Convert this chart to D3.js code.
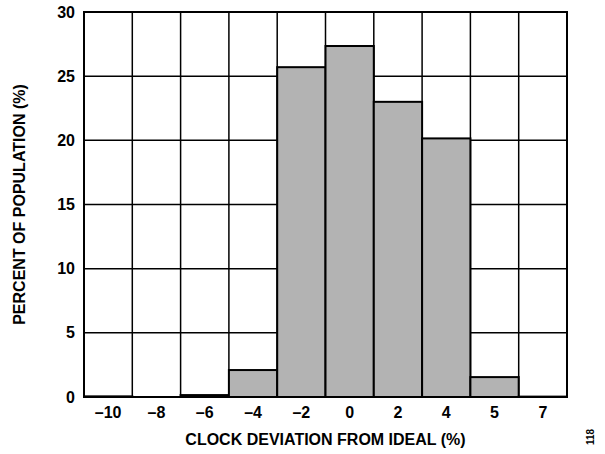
<!DOCTYPE html>
<html><head><meta charset="utf-8">
<script src="https://cdn.jsdelivr.net/npm/d3@7"></script>
<style>body{margin:0;background:#fff}svg{display:block}text{font-family:"Liberation Sans",Arial,sans-serif;font-weight:bold;fill:#000}</style>
</head><body>
<script>
const categories = ["\u201310","\u20138","\u20136","\u20134","\u20132","0","2","4","5","7"];
const percents = [0.05, 0, 0.15, 2.1, 25.7, 27.35, 23.0, 20.15, 1.55, 0.03];
const yTicks = [0,5,10,15,20,25,30];

const W=605,H=454, m={l:84,r:38,t:12,b:57};
const svg=d3.select("body").append("svg").attr("width",W).attr("height",H);
const x=d3.scaleBand().domain(categories).range([m.l,W-m.r]).padding(0);
const y=d3.scaleLinear().domain([0,30]).range([H-m.b,m.t]);

const g=svg.append("g");
g.selectAll("line.h").data(yTicks).join("line")
 .attr("x1",m.l).attr("x2",W-m.r).attr("y1",d=>y(d)).attr("y2",d=>y(d))
 .attr("stroke","#000").attr("stroke-width",1.5);
g.selectAll("line.v").data(categories.slice(1)).join("line")
 .attr("x1",d=>x(d)).attr("x2",d=>x(d)).attr("y1",m.t).attr("y2",H-m.b)
 .attr("stroke","#000").attr("stroke-width",1.5);
g.selectAll("rect.bar").data(categories).join("rect")
 .attr("x",d=>x(d)).attr("width",x.bandwidth())
 .attr("y",(d,i)=>y(percents[i])).attr("height",(d,i)=>y(0)-y(percents[i]))
 .attr("fill","#b3b3b3").attr("stroke","#000").attr("stroke-width",2);
svg.append("rect").attr("x",m.l).attr("y",m.t).attr("width",W-m.r-m.l).attr("height",H-m.b-m.t)
 .attr("fill","none").attr("stroke","#000").attr("stroke-width",2);

const FS=16;
const ya=svg.append("g").attr("transform",`translate(${m.l},0)`)
 .call(d3.axisLeft(y).tickValues(yTicks).tickSize(0).tickPadding(9));
ya.select(".domain").remove();
ya.selectAll("text").attr("font-size",FS).attr("font-family","Liberation Sans, Arial, sans-serif").attr("font-weight","bold");
const xa=svg.append("g").attr("transform",`translate(0,${H-m.b})`)
 .call(d3.axisBottom(x).tickSize(0).tickPadding(10));
xa.select(".domain").remove();
xa.selectAll("text").attr("font-size",FS).attr("font-family","Liberation Sans, Arial, sans-serif").attr("font-weight","bold");

svg.append("text").attr("x",(m.l+W-m.r)/2).attr("y",445).attr("text-anchor","middle")
 .attr("font-size",FS).text("CLOCK DEVIATION FROM IDEAL (%)");
svg.append("text").attr("transform",`translate(25,${(m.t+H-m.b)/2}) rotate(-90)`).attr("text-anchor","middle")
 .attr("font-size",FS).text("PERCENT OF POPULATION (%)");
svg.append("text").attr("transform",`translate(594,437) rotate(-90)`).attr("text-anchor","middle")
 .attr("font-size",10).attr("font-weight","normal").text("118");
</script>
</body></html>
